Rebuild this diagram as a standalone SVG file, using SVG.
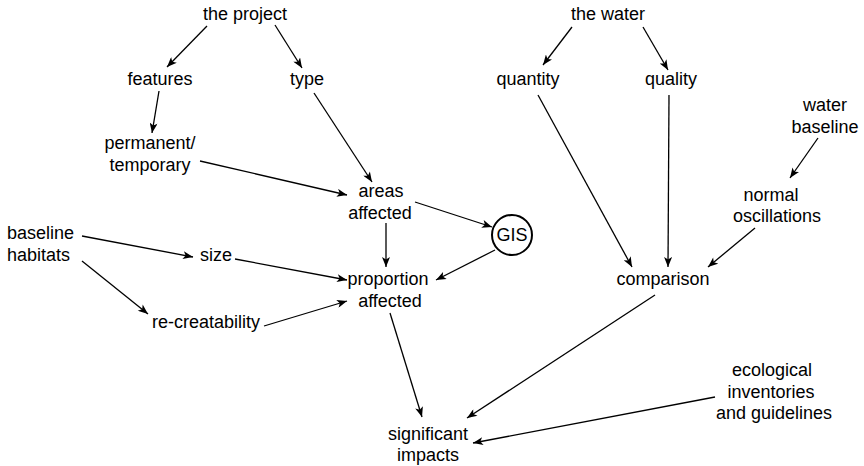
<svg xmlns="http://www.w3.org/2000/svg" width="864" height="466" viewBox="0 0 864 466">
  <defs>
    <marker id="arrow" viewBox="0 0 10 8" refX="10" refY="4" markerWidth="11" markerHeight="8" markerUnits="userSpaceOnUse" orient="auto">
      <path d="M0,0 L10,4 L0,8 L2.5,4 Z" fill="#000"/>
    </marker>
  </defs>
  <style>
    text { font-family: "Liberation Sans", Arial, sans-serif; font-size: 18px; fill: #000; text-anchor: middle; }
    .left { text-anchor: start; }
    .edge { stroke: #000; stroke-width: 1.3; fill: none; marker-end: url(#arrow); }
    .ring { stroke: #000; stroke-width: 2; fill: #fff; }
  </style>
  <rect width="864" height="466" fill="#fff"/>

  <g id="connectors">
    <line class="edge" x1="207" y1="26" x2="167" y2="67"/>
    <line class="edge" x1="275" y1="25" x2="302" y2="68"/>
    <line class="edge" x1="159" y1="91" x2="152" y2="133"/>
    <line class="edge" x1="314" y1="93" x2="372" y2="182"/>
    <line class="edge" x1="200" y1="161" x2="347" y2="195"/>
    <line class="edge" x1="415" y1="202" x2="492" y2="227"/>
    <line class="edge" x1="386" y1="223" x2="386" y2="267"/>
    <line class="edge" x1="495" y1="250" x2="436" y2="280"/>
    <line class="edge" x1="82" y1="236" x2="193" y2="257"/>
    <line class="edge" x1="82" y1="261" x2="148" y2="314"/>
    <line class="edge" x1="235" y1="259" x2="347" y2="280"/>
    <line class="edge" x1="264" y1="326" x2="347" y2="301"/>
    <line class="edge" x1="572" y1="27" x2="543" y2="65"/>
    <line class="edge" x1="643" y1="27" x2="668" y2="70"/>
    <line class="edge" x1="538" y1="95" x2="632" y2="267"/>
    <line class="edge" x1="669" y1="95" x2="668" y2="267"/>
    <line class="edge" x1="818" y1="138" x2="790" y2="178"/>
    <line class="edge" x1="755" y1="228" x2="708" y2="267"/>
    <line class="edge" x1="390" y1="313" x2="422" y2="417"/>
    <line class="edge" x1="655" y1="295" x2="467" y2="418"/>
    <line class="edge" x1="715" y1="397" x2="473" y2="443"/>
  </g>

  <g id="the-project"><text x="245" y="20">the project</text></g>
  <g id="features"><text x="160" y="85">features</text></g>
  <g id="type"><text x="307" y="85">type</text></g>
  <g id="permanent-temporary">
    <text x="150" y="149">permanent/</text>
    <text x="150" y="171">temporary</text>
  </g>
  <g id="areas-affected">
    <text x="381" y="197">areas</text>
    <text x="380" y="219">affected</text>
  </g>
  <g id="gis">
    <circle class="ring" cx="512" cy="235" r="20"/>
    <text x="512" y="241">GIS</text>
  </g>
  <g id="baseline-habitats">
    <text class="left" x="7" y="239">baseline</text>
    <text class="left" x="7" y="261">habitats</text>
  </g>
  <g id="size"><text x="216" y="261">size</text></g>
  <g id="re-creatability"><text x="206" y="328">re-creatability</text></g>
  <g id="proportion-affected">
    <text x="388" y="285">proportion</text>
    <text x="390" y="307">affected</text>
  </g>
  <g id="the-water"><text x="608" y="20">the water</text></g>
  <g id="quantity"><text x="528" y="85">quantity</text></g>
  <g id="quality"><text x="671" y="85">quality</text></g>
  <g id="water-baseline">
    <text x="825" y="111">water</text>
    <text x="825" y="133">baseline</text>
  </g>
  <g id="normal-oscillations">
    <text x="771" y="201">normal</text>
    <text x="777" y="222">oscillations</text>
  </g>
  <g id="comparison"><text x="663" y="285">comparison</text></g>
  <g id="ecological-inventories">
    <text x="772" y="376">ecological</text>
    <text x="771" y="398">inventories</text>
    <text x="774" y="419">and guidelines</text>
  </g>
  <g id="significant-impacts">
    <text x="428" y="440">significant</text>
    <text x="428" y="461">impacts</text>
  </g>
</svg>
